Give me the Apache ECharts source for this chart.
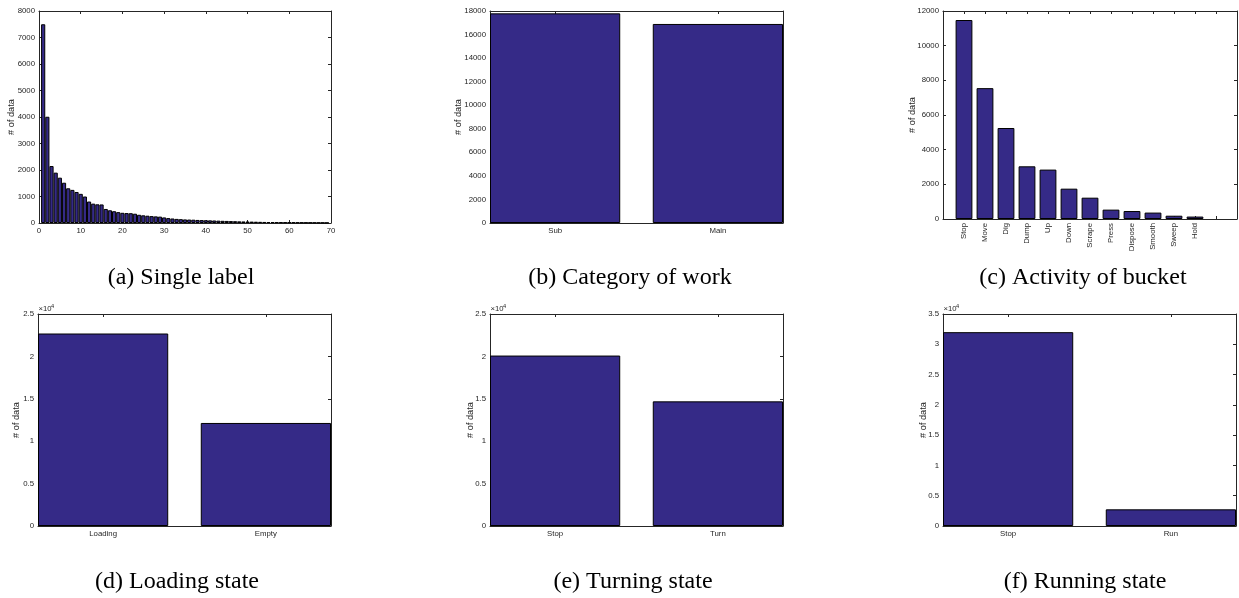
<!DOCTYPE html>
<html>
<head>
<meta charset="utf-8">
<script src="https://cdn.jsdelivr.net/npm/echarts@6/dist/echarts.min.js"></script>
<style>
html,body{margin:0;padding:0;background:#fff;}
#chart{width:1239px;height:598px;}
</style>
</head>
<body>
<div id="chart"></div>
<script>
// ---------- data ----------
const histBins = [];
for (let b = 1; b <= 69; b++) histBins.push(b);
const histCounts = [7500, 4010, 2150, 1900, 1710, 1520, 1310, 1250, 1170, 1100,
  1000, 810, 730, 705, 700, 530, 480, 445, 410, 385,
  375, 370, 350, 310, 290, 275, 260, 250, 240, 210,
  185, 170, 155, 145, 135, 130, 125, 115, 110, 105,
  100, 95, 88, 82, 78, 72, 68, 62, 58, 55,
  52, 48, 44, 40, 37, 34, 32, 30, 28, 26,
  24, 22, 20, 18, 17, 15, 14, 12, 10];

const workCats = ['Sub', 'Main'];
const workCounts = [17800, 16900];

const activityCats = ['Stop', 'Move', 'Dig', 'Dump', 'Up', 'Down', 'Scrape', 'Press', 'Dispose', 'Smooth', 'Sweep', 'Hold'];
const activityCounts = [11480, 7550, 5250, 3040, 2850, 1750, 1230, 540, 460, 370, 190, 140];

const loadCats = ['Loading', 'Empty'];
const loadCounts = [22700, 12150];

const turnCats = ['Stop', 'Turn'];
const turnCounts = [20100, 14700];

const runCats = ['Stop', 'Run'];
const runCounts = [32000, 2750];

const captions = ['(a) Single label', '(b) Category of work', '(c) Activity of bucket',
  '(d) Loading state', '(e) Turning state', '(f) Running state'];
const yName = '# of data';

// ---------- styling / layout ----------
const AX = '#262626';
const BAR = '#352A87';
const SANS = '"Liberation Sans", Arial, sans-serif';
const SERIF = '"Liberation Serif", "Times New Roman", serif';
const TICK_FS = 7.8;

const grids = [], xAxes = [], yAxes = [], series = [], graphics = [];

function addPanel(p) {
  const gi = grids.length;
  grids.push({left: p.grid[0], top: p.grid[1], width: p.grid[2], height: p.grid[3], containLabel: false});
  const line = {show: true, onZero: false, lineStyle: {color: AX, width: 1}};
  const tick = Object.assign({show: true, inside: true, length: 3, lineStyle: {color: AX, width: 1}},
    p.xTickValues ? {customValues: p.xTickValues} : {});
  const xBase = {gridIndex: gi, type: 'value', min: p.xMin, max: p.xMax, splitLine: {show: false}, axisLine: line, axisTick: tick};
  if (p.xInterval) xBase.interval = p.xInterval;
  const xi = xAxes.length;
  xAxes.push(Object.assign({}, xBase, {
    position: 'bottom',
    axisLabel: Object.assign({
      show: true, fontSize: TICK_FS, fontFamily: SANS, color: AX, margin: 4,
      rotate: p.xRotate || 0, showMinLabel: true, showMaxLabel: true,
      formatter: p.xFormatter
    }, p.xLabelValues ? {customValues: p.xLabelValues} : {})
  }));
  xAxes.push(Object.assign({}, xBase, {position: 'top', axisLabel: {show: false}}));
  const yTick = {show: true, inside: true, length: 3, lineStyle: {color: AX, width: 1}};
  const yBase = {gridIndex: gi, type: 'value', min: 0, max: p.yMax, interval: p.yInterval,
    splitLine: {show: false}, axisLine: line, axisTick: yTick};
  const yi = yAxes.length;
  yAxes.push(Object.assign({}, yBase, {
    position: 'left',
    name: yName, nameLocation: 'middle', nameRotate: 90, nameGap: p.nameGap, nameMoveOverlap: false,
    nameTextStyle: {fontSize: 9.2, fontFamily: SANS, color: AX},
    axisLabel: {show: true, fontSize: TICK_FS, fontFamily: SANS, color: AX, margin: 4,
      showMinLabel: true, showMaxLabel: true, formatter: p.yFormatter || (v => String(v))}
  }));
  yAxes.push(Object.assign({}, yBase, {position: 'right', axisLabel: {show: false}}));
  series.push({
    type: 'bar', xAxisIndex: xi, yAxisIndex: yi,
    barWidth: p.barWidth,
    itemStyle: {color: BAR, borderColor: '#000', borderWidth: 1},
    emphasis: {disabled: true},
    silent: true, animation: false,
    data: p.x.map((v, i) => [v, p.y[i]])
  });
  // caption
  graphics.push({type: 'text', x: p.cap[0], y: p.cap[1], silent: true,
    style: {text: p.caption, fontSize: 24, fontFamily: SERIF, fill: '#000', align: 'center', verticalAlign: 'middle'}});
  if (p.exp) {
    graphics.push({type: 'text', x: p.grid[0] + 0.5, y: p.grid[1] - 5, silent: true,
      style: {text: '\u00d710', fontSize: 7.7, fontFamily: SANS, fill: AX, align: 'left', verticalAlign: 'middle'}});
    graphics.push({type: 'text', x: p.grid[0] + 13, y: p.grid[1] - 8, silent: true,
      style: {text: '4', fontSize: 5.6, fontFamily: SANS, fill: AX, align: 'left', verticalAlign: 'middle'}});
  }
}

const idxCat = cats => v => cats[Math.round(v) - 1] || '';
const e4 = v => String(+(v / 10000).toFixed(2));

addPanel({grid: [39, 11, 292, 212], x: histBins, y: histCounts, xMin: 0, xMax: 70, xInterval: 10,
  xFormatter: v => String(v), yMax: 8000, yInterval: 1000, nameGap: 23, barWidth: '100%',
  caption: captions[0], cap: [181, 278]});
addPanel({grid: [490, 11, 293, 212], x: [1, 2], y: workCounts, xMin: 0.6, xMax: 2.4,
  xTickValues: [1, 2], xLabelValues: [1, 2], xFormatter: idxCat(workCats),
  yMax: 18000, yInterval: 2000, nameGap: 27, barWidth: '80%',
  caption: captions[1], cap: [630, 278]});
addPanel({grid: [943, 11, 294, 208], x: activityCats.map((c, i) => i + 1), y: activityCounts, xMin: 0, xMax: 14,
  xTickValues: [1, 2, 3, 4, 5, 6, 7, 8, 9, 10, 11, 12, 13], xLabelValues: [1, 2, 3, 4, 5, 6, 7, 8, 9, 10, 11, 12],
  xFormatter: idxCat(activityCats), xRotate: 90,
  yMax: 12000, yInterval: 2000, nameGap: 26, barWidth: '80%',
  caption: captions[2], cap: [1083, 278]});
addPanel({grid: [38, 314, 293, 212], x: [1, 2], y: loadCounts, xMin: 0.6, xMax: 2.4,
  xTickValues: [1, 2], xLabelValues: [1, 2], xFormatter: idxCat(loadCats),
  yMax: 25000, yInterval: 5000, yFormatter: e4, nameGap: 17.5, barWidth: '80%', exp: true,
  caption: captions[3], cap: [177, 582]});
addPanel({grid: [490, 314, 293, 212], x: [1, 2], y: turnCounts, xMin: 0.6, xMax: 2.4,
  xTickValues: [1, 2], xLabelValues: [1, 2], xFormatter: idxCat(turnCats),
  yMax: 25000, yInterval: 5000, yFormatter: e4, nameGap: 15, barWidth: '80%', exp: true,
  caption: captions[4], cap: [633, 582]});
addPanel({grid: [943, 314, 293, 212], x: [1, 2], y: runCounts, xMin: 0.6, xMax: 2.4,
  xTickValues: [1, 2], xLabelValues: [1, 2], xFormatter: idxCat(runCats),
  yMax: 35000, yInterval: 5000, yFormatter: e4, nameGap: 15.5, barWidth: '80%', exp: true,
  caption: captions[5], cap: [1085, 582]});

const chart = echarts.init(document.getElementById('chart'), null, {renderer: 'canvas'});
chart.setOption({
  animation: false,
  backgroundColor: '#fff',
  grid: grids,
  xAxis: xAxes,
  yAxis: yAxes,
  series: series,
  graphic: graphics
});
</script>
</body>
</html>
